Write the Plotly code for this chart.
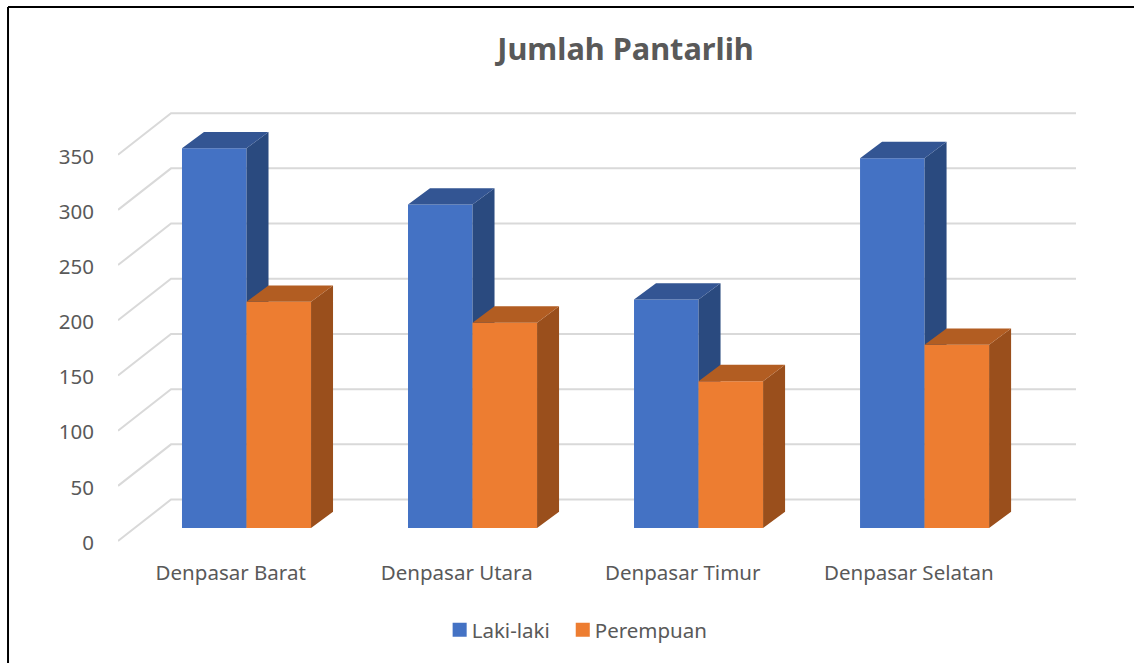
import plotly.graph_objects as go

categories = ["Denpasar Barat", "Denpasar Utara", "Denpasar Timur", "Denpasar Selatan"]
laki_laki = [344, 293, 207, 335]
perempuan = [205, 186, 133, 166]
y_ticks = [0, 50, 100, 150, 200, 250, 300, 350]

BAR_W = 0.2855
DEPTH_X = 0.0973
DEPTH_Y = 14.8
FLOOR_FRONT = -11.8
FLOOR_BACK = 25.8
X_LO, X_HI = -0.5686, 3.670
Y_LO, Y_HI = -18.1, 383.2
WALL_X = -0.334
LABEL_SHIFT = -0.07
FONT = "Noto Sans"
TXT = "#595959"
GRID = "#d9d9d9"

fig = go.Figure()

# floor / wall gridlines (lowest subplot layer)
gx, gy = [], []
for v in y_ticks:
    gx += [X_LO, WALL_X, X_HI, None]
    gy += [v + FLOOR_FRONT, v + FLOOR_BACK, v + FLOOR_BACK, None]
fig.add_trace(go.Scatter(x=gx, y=gy, mode="lines", line=dict(color=GRID, width=2),
                         hoverinfo="skip", showlegend=False, xaxis="x", yaxis="y"))


def add_series(name, vals, x0off, front, top, side, xa, ya):
    xs = list(range(len(vals)))
    fig.add_trace(go.Bar(name=name, x=xs, y=vals, width=BAR_W, offset=x0off,
                         marker=dict(color=front, line=dict(width=0)),
                         xaxis=xa, yaxis=ya))
    sx, sy, tx, ty = [], [], [], []
    for i, v in zip(xs, vals):
        l = i + x0off
        r = l + BAR_W
        sx += [r, r + DEPTH_X, r + DEPTH_X, r, r, None]
        sy += [0, DEPTH_Y, v + DEPTH_Y, v, 0, None]
        tx += [l, l + DEPTH_X, r + DEPTH_X, r, l, None]
        ty += [v, v + DEPTH_Y, v + DEPTH_Y, v, v, None]
    for px, py, c in ((sx, sy, side), (tx, ty, top)):
        fig.add_trace(go.Scatter(x=px, y=py, mode="lines", fill="toself", fillcolor=c,
                                 line=dict(width=0, color=c), hoverinfo="skip",
                                 showlegend=False, xaxis=xa, yaxis=ya))


add_series("Laki-laki", laki_laki, -BAR_W, "#4472c4", "#335593", "#2a4a7f", "x2", "y2")
add_series("Perempuan", perempuan, 0.0, "#ed7d31", "#b25d22", "#9a4f1c", "x3", "y3")

# empty trace to activate the labelled value axis
fig.add_trace(go.Scatter(x=[None], y=[None], xaxis="x", yaxis="y4", showlegend=False,
                         hoverinfo="skip"))

hidden_x = dict(range=[X_LO, X_HI], overlaying="x", visible=False)
hidden_y = dict(range=[Y_LO, Y_HI], overlaying="y", visible=False)

fig.update_layout(
    width=1134, height=663,
    margin=dict(l=118, r=58, t=105, b=115),
    paper_bgcolor="white", plot_bgcolor="rgba(0,0,0,0)",
    font=dict(family=FONT, color=TXT, size=20.5),
    title=dict(text="<b>Jumlah Pantarlih</b>", x=0.5516, xanchor="center", y=0.925,
               yanchor="middle", font=dict(size=30.7, color=TXT, family=FONT)),
    showlegend=True,
    legend=dict(orientation="h", x=0.3274, xanchor="left", y=-0.185, yanchor="middle",
                font=dict(size=20.5, color=TXT)),
    xaxis=dict(range=[X_LO, X_HI], tickmode="array",
               tickvals=[i + LABEL_SHIFT for i in range(len(categories))],
               ticktext=categories, showgrid=False, zeroline=False, showline=False,
               ticks="outside", ticklen=6, tickcolor="rgba(0,0,0,0)"),
    yaxis=dict(range=[Y_LO, Y_HI], showgrid=False, zeroline=False, showticklabels=False),
    xaxis2=hidden_x, yaxis2=hidden_y,
    xaxis3=hidden_x, yaxis3=hidden_y,
    yaxis4=dict(range=[-5, 396.6], overlaying="y", side="left", tickmode="array", tickvals=y_ticks,
                showgrid=False, zeroline=False, showline=False, ticks="outside", ticklen=19,
                tickcolor="rgba(0,0,0,0)"),
    shapes=[
        dict(type="line", xref="paper", yref="paper", x0=-0.1148, x1=1.1, y0=1.2212, y1=1.2212,
             line=dict(color="black", width=2)),
        dict(type="line", xref="paper", yref="paper", x0=-0.1148, x1=-0.1148, y0=-0.3, y1=1.2212,
             line=dict(color="black", width=2)),
    ],
)
post = """
document.body.style.margin='0';
function moveSwatches(){
  document.querySelectorAll('.legendpoints path').forEach(function(p){
    p.setAttribute('transform','translate(28,0) scale(1.17)');
    p.style.transform='translate(28px,0px) scale(1.17)';
  });
}
moveSwatches();
setTimeout(moveSwatches, 50);
setTimeout(moveSwatches, 300);
"""
fig.write_html("out.html", config={"displayModeBar": False}, post_script=post)
